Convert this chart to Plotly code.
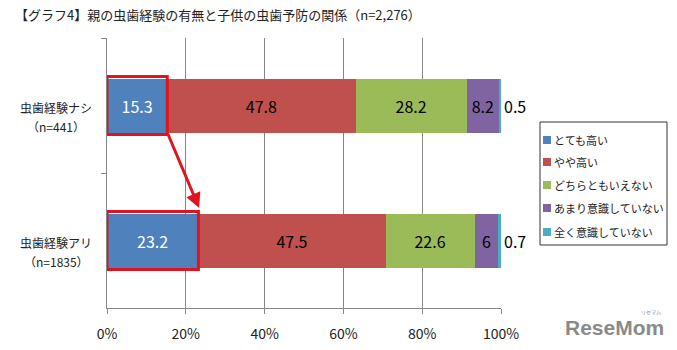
import plotly.graph_objects as go

categories = ["虫歯経験ナシ", "虫歯経験アリ"]
cat_sub = ["（n=441）", "（n=1835）"]
series_names = ["とても高い", "やや高い", "どちらともいえない", "あまり意識していない", "全く意識していない"]
values = {
    "とても高い": [15.3, 23.2],
    "やや高い": [47.8, 47.5],
    "どちらともいえない": [28.2, 22.6],
    "あまり意識していない": [8.2, 6],
    "全く意識していない": [0.5, 0.7],
}
colors = ["#4F81BD", "#C0504D", "#9BBB59", "#8064A2", "#4BACC6"]
text_colors = ["white", "black", "black", "black", "black"]
x_ticks = [0, 20, 40, 60, 80, 100]
x_ticklabels = ["0%", "20%", "40%", "60%", "80%", "100%"]

FONT = "Noto Sans CJK JP"
L, R, T, B = 107, 176, 38, 42
PW, PH = 677 - L - R, 350 - T - B


def px_x(p):
    return (p - L) / PW


def px_y(p):
    return (350 - B - p) / PH


fig = go.Figure()
for i, name in enumerate(series_names):
    last = i == len(series_names) - 1
    fig.add_trace(go.Bar(
        y=categories, x=values[name], name=name, orientation="h",
        marker=dict(color=colors[i], line=dict(width=0)),
        text=[f"{v:g}" for v in values[name]],
        textposition="outside" if last else "inside",
        insidetextanchor="middle",
        constraintext="none",
        textfont=dict(size=16, color=text_colors[i], family=FONT),
        outsidetextfont=dict(size=16, color="black", family=FONT),
        cliponaxis=False,
        showlegend=False,
        hoverinfo="skip",
    ))

# highlight boxes around the first series
blue = values[series_names[0]]
for j in range(len(categories)):
    fig.add_shape(type="rect", xref="x", yref="y",
                  x0=0, x1=blue[j], y0=j - 0.215, y1=j + 0.215,
                  line=dict(color="#E0141E", width=3), fillcolor="rgba(0,0,0,0)")

# arrow
fig.add_annotation(x=blue[1] + 0.2, y=0.76, ax=blue[0], ay=0.2,
                   xref="x", yref="y", axref="x", ayref="y",
                   text="", showarrow=True, arrowhead=2, arrowsize=1,
                   arrowwidth=3, arrowcolor="#E0141E")

# category labels
for j in range(len(categories)):
    fig.add_annotation(x=px_x(56), y=j, xref="paper", yref="y", text=categories[j],
                       showarrow=False, xanchor="center", yanchor="middle",
                       yshift=-2, font=dict(size=12, color="#222", family=FONT))
    fig.add_annotation(x=px_x(56), y=j, xref="paper", yref="y", text=cat_sub[j],
                       showarrow=False, xanchor="center", yanchor="middle",
                       yshift=-21, font=dict(size=12, color="#222", family=FONT))

# legend (drawn as a boxed key)
fig.add_shape(type="rect", xref="paper", yref="paper",
              x0=px_x(540), x1=px_x(667), y0=px_y(245), y1=px_y(122),
              line=dict(color="#333", width=1), fillcolor="white", layer="above")
leg_y = [140, 162, 185, 208, 232]
for i, name in enumerate(series_names):
    yc = leg_y[i]
    fig.add_shape(type="rect", xref="paper", yref="paper",
                  x0=px_x(543), x1=px_x(551), y0=px_y(yc + 4), y1=px_y(yc - 4),
                  line=dict(width=0), fillcolor=colors[i], layer="above")
    fig.add_annotation(x=px_x(552), y=px_y(yc), xref="paper", yref="paper",
                       text=name, showarrow=False, xanchor="left", yanchor="middle",
                       font=dict(size=11, color="#222", family=FONT))

# watermark
fig.add_annotation(x=px_x(614), y=px_y(328), xref="paper", yref="paper",
                   text="<b>ReseMom</b>", showarrow=False, xanchor="center", yanchor="middle",
                   font=dict(size=21, color="#8a8a8a", family="Arial"))
fig.add_annotation(x=px_x(651), y=px_y(312), xref="paper", yref="paper",
                   text="リセマム", showarrow=False, xanchor="center", yanchor="middle",
                   font=dict(size=5, color="#8a8a8a", family=FONT))

fig.update_layout(
    width=677, height=350,
    margin=dict(l=L, r=R, t=T, b=B, autoexpand=False),
    paper_bgcolor="white", plot_bgcolor="white",
    barmode="stack", bargap=0.6,
    uniformtext=dict(minsize=16, mode="show"),
    font=dict(family=FONT, size=13, color="#222"),
    title=dict(text="【グラフ4】親の虫歯経験の有無と子供の虫歯予防の関係（n=2,276）",
               xref="container", yref="container", x=15 / 677, y=1 - 15 / 350,
               xanchor="left", yanchor="middle",
               font=dict(size=13, color="#222", family=FONT)),
    showlegend=False,
)
fig.update_xaxes(range=[0, 100.0001], tickvals=x_ticks, ticktext=x_ticklabels,
                 showgrid=True, gridcolor="#868686", gridwidth=1,
                 showline=True, linecolor="#868686", linewidth=1,
                 ticks="outside", ticklen=5, tickcolor="#868686",
                 tickfont=dict(size=14, color="#222", family=FONT),
                 ticklabelstandoff=8, zeroline=False, fixedrange=True)
fig.update_yaxes(autorange="reversed", showticklabels=False,
                 showline=True, linecolor="#868686", linewidth=1,
                 ticks="outside", ticklen=5, tickcolor="#868686",
                 tickson="boundaries", showgrid=False, fixedrange=True)

fig.write_html("out.html")
